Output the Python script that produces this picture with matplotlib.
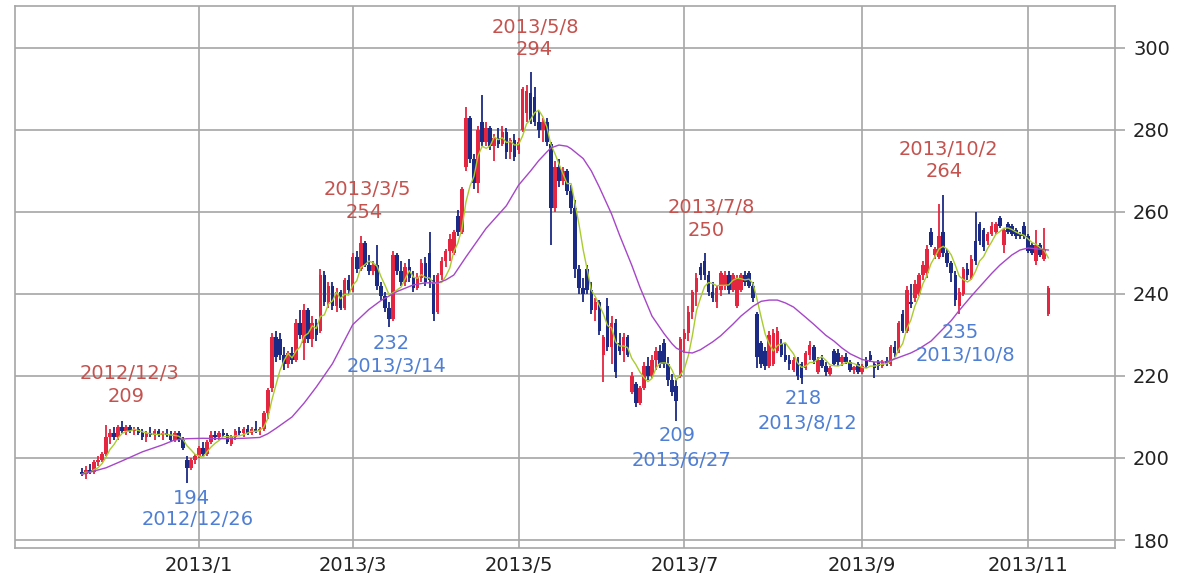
import matplotlib
matplotlib.use("Agg")
import matplotlib.pyplot as plt
import numpy as np
import pandas as pd

# daily candles, trading-day index 0 = 2012/11/16
opens = [
    196.5, 196.0, 197.0, 196.5, 199.0, 199.5, 201.0, 205.0, 206.0, 205.0,
    207.5, 206.5, 207.5, 206.5, 207.0, 206.0, 205.0, 206.0, 205.5, 206.5,
    205.5, 206.0, 205.5, 204.5, 206.0, 204.5, 199.5, 197.5, 199.5, 200.5,
    202.5, 201.0, 204.0, 205.5, 205.0, 206.0, 205.5, 203.5, 205.0, 206.5,
    206.0, 207.0, 206.0, 207.0, 206.5, 207.0, 211.0, 217.0, 229.5, 229.0,
    225.0, 223.0, 225.5, 224.0, 233.0, 228.0, 236.0, 229.0, 233.0, 231.0,
    244.5, 238.0, 242.0, 237.0, 240.5, 236.5, 243.5, 241.0, 249.0, 246.0,
    252.5, 247.0, 245.5, 247.0, 242.0, 239.5, 236.5, 234.0, 249.5, 245.5,
    243.0, 246.5, 244.0, 241.5, 244.0, 247.5, 250.0, 243.5, 235.5, 244.5,
    248.0, 250.5, 250.0, 259.0, 255.0, 271.0, 283.0, 273.0, 267.0, 282.0,
    277.0, 280.5, 276.0, 278.0, 276.5, 279.5, 274.5, 277.5, 275.0, 280.0,
    284.0, 289.0, 288.0, 282.0, 280.0, 282.0, 276.5, 261.0, 271.0, 267.5,
    270.0, 265.0, 261.0, 246.0, 241.5, 246.0, 241.0, 236.0, 238.0, 225.0,
    237.0, 227.0, 233.0, 228.0, 226.0, 229.5, 216.0, 218.0, 213.5, 217.0,
    222.5, 220.0, 224.0, 226.0, 228.0, 223.0, 219.0, 217.5, 220.0, 229.0,
    230.5, 235.5, 240.5, 246.5, 248.0, 244.5, 240.5, 238.0, 241.0, 242.0,
    244.5, 241.0, 237.0, 241.0, 244.5, 245.0, 242.0, 235.0, 228.0, 226.0,
    222.5, 223.0, 226.0, 228.0, 225.0, 224.0, 221.5, 224.0, 223.0, 222.0,
    225.0, 227.0, 221.0, 224.0, 222.5, 220.5, 226.0, 225.5, 223.5, 224.5,
    223.5, 221.5, 223.0, 221.0, 224.0, 225.0, 223.0, 223.5, 222.5, 223.5,
    223.0, 227.0, 226.0, 235.0, 231.0, 238.0, 239.0, 240.0, 244.5, 245.0,
    255.0, 249.5, 249.0, 255.0, 250.0, 247.5, 244.5, 237.0, 240.0, 246.0,
    244.0, 253.0, 257.0, 255.5, 253.0, 254.5, 255.0, 258.5, 252.0, 257.0,
    256.5, 255.5, 254.5, 256.5, 254.0, 252.0, 248.0, 252.0, 248.5, 235.0,
]
highs = [
    197.5, 198.0, 198.5, 199.5, 200.5, 201.5, 208.0, 207.0, 207.5, 208.0,
    209.0, 208.0, 208.0, 207.5, 207.5, 207.0, 206.5, 207.5, 207.0, 207.0,
    206.5, 207.0, 206.5, 206.5, 206.5, 205.0, 200.5, 200.0, 201.0, 203.0,
    204.0, 204.5, 206.5, 206.5, 206.5, 207.0, 206.0, 205.5, 207.0, 207.5,
    207.5, 208.0, 207.5, 209.0, 207.5, 211.5, 217.0, 230.5, 231.0, 230.5,
    227.0, 226.0, 227.0, 234.0, 236.0, 237.5, 236.5, 234.5, 234.0, 246.0,
    245.5, 243.0, 243.0, 241.5, 241.0, 244.0, 244.5, 250.0, 250.5, 254.0,
    253.0, 249.5, 248.0, 252.0, 243.0, 240.5, 238.0, 250.5, 250.0, 248.0,
    247.5, 248.5, 245.5, 245.0, 248.5, 249.0, 255.0, 244.5, 245.0, 249.0,
    251.0, 254.5, 255.5, 260.5, 266.0, 285.5, 283.5, 274.0, 281.0, 288.5,
    282.0, 281.0, 279.0, 280.5, 281.0, 280.5, 278.0, 279.0, 278.0, 290.5,
    291.0, 294.0, 290.5, 284.5, 283.0, 283.0, 277.0, 272.5, 273.0, 271.0,
    270.5, 266.5, 263.0, 247.0, 244.0, 247.0, 243.0, 239.0, 238.5, 230.0,
    239.0, 234.5, 234.0, 230.5, 230.5, 230.0, 221.0, 218.5, 217.5, 223.5,
    224.5, 225.0, 227.0, 227.5, 229.0, 224.5, 220.5, 219.0, 229.5, 231.5,
    237.0, 241.0, 245.0, 247.5, 250.0, 245.5, 243.0, 242.0, 245.5, 245.5,
    245.5, 245.0, 244.5, 245.0, 245.5, 245.5, 243.0, 235.5, 228.5, 227.0,
    231.0, 231.5, 232.0, 229.0, 228.0, 225.0, 224.5, 224.5, 223.5, 226.0,
    228.5, 227.5, 224.5, 225.0, 223.5, 222.5, 226.5, 226.5, 225.0, 225.5,
    224.0, 222.5, 223.5, 223.0, 224.5, 226.0, 223.5, 224.0, 224.0, 224.5,
    227.5, 228.5, 233.5, 236.0, 242.0, 242.5, 243.5, 245.0, 248.0, 252.0,
    256.0, 251.5, 262.0, 264.0, 251.0, 248.0, 245.5, 241.5, 246.5, 247.5,
    249.5, 260.0, 257.5, 256.0, 255.0, 257.5, 257.5, 259.0, 256.0, 257.5,
    257.0, 256.0, 255.0, 257.5, 254.5, 252.5, 255.5, 252.5, 256.0, 242.0,
]
lows = [
    195.5, 194.8, 196.0, 196.0, 198.0, 199.0, 200.5, 203.5, 204.5, 204.5,
    206.0, 205.5, 206.0, 205.5, 205.5, 204.5, 204.0, 205.0, 204.5, 205.0,
    204.5, 205.0, 204.0, 204.0, 204.0, 202.0, 194.0, 197.0, 198.5, 200.0,
    200.5, 200.5, 203.5, 204.5, 204.5, 205.0, 203.5, 203.0, 204.5, 205.5,
    205.0, 205.5, 205.5, 206.0, 205.5, 206.5, 209.5, 216.0, 223.5, 224.0,
    221.5, 222.0, 223.0, 223.5, 229.0, 224.0, 228.0, 227.0, 228.5, 230.5,
    237.0, 236.5, 236.0, 235.5, 236.0, 236.0, 240.0, 240.5, 245.0, 245.5,
    246.5, 244.5, 244.5, 241.0, 238.5, 235.5, 232.0, 233.5, 244.5, 242.0,
    242.0, 243.0, 240.5, 241.0, 243.0, 242.0, 241.5, 233.5, 235.0, 243.5,
    246.5, 248.0, 249.5, 254.0, 254.5, 270.0, 272.0, 265.5, 264.5, 276.0,
    276.0, 275.0, 272.5, 275.5, 276.0, 273.0, 273.0, 272.5, 274.0, 279.5,
    282.0, 281.5, 281.0, 278.0, 277.0, 276.0, 252.0, 260.0, 266.0, 266.5,
    264.0, 259.5, 244.0, 240.0, 238.0, 240.0, 235.0, 233.5, 230.0, 218.5,
    226.0, 223.0, 219.5, 225.0, 223.5, 224.5, 215.5, 212.5, 213.0, 216.5,
    219.0, 219.5, 221.5, 222.0, 222.0, 217.5, 215.0, 209.0, 219.5, 225.5,
    228.5, 234.0, 237.0, 243.5, 243.5, 239.5, 238.0, 236.5, 239.5, 241.0,
    240.0, 240.5, 236.5, 240.5, 242.0, 241.5, 238.0, 222.0, 222.0, 221.5,
    222.0, 222.5, 225.5, 224.5, 223.5, 221.5, 221.0, 219.0, 218.0, 221.5,
    224.0, 223.0, 220.5, 222.0, 220.0, 220.0, 222.5, 222.5, 222.5, 223.0,
    221.0, 220.5, 220.5, 220.5, 222.0, 223.5, 219.5, 221.5, 222.0, 222.5,
    222.5, 224.5, 225.5, 230.5, 230.5, 236.5, 238.0, 239.5, 243.5, 244.0,
    251.5, 248.5, 248.5, 249.0, 246.5, 243.0, 237.0, 235.0, 239.5, 243.5,
    243.5, 247.0, 252.0, 250.5, 252.0, 254.0, 254.5, 256.0, 250.0, 254.5,
    254.0, 253.5, 253.5, 253.5, 250.0, 249.5, 247.0, 249.0, 248.0, 234.5,
]
closes = [
    196.0, 197.0, 196.5, 199.0, 199.5, 201.0, 205.0, 206.0, 205.0, 207.5,
    206.5, 207.5, 206.5, 207.0, 206.0, 205.0, 206.0, 205.5, 206.5, 205.5,
    206.0, 205.5, 204.5, 206.0, 204.5, 202.5, 197.5, 199.5, 200.5, 202.5,
    201.0, 204.0, 205.5, 205.0, 206.0, 205.5, 204.0, 205.0, 206.5, 206.0,
    207.0, 206.0, 207.0, 206.5, 207.0, 211.0, 216.5, 229.5, 224.5, 225.0,
    223.0, 225.5, 224.0, 233.0, 230.0, 236.0, 229.0, 233.0, 230.0, 244.5,
    238.0, 242.0, 237.0, 240.5, 236.5, 243.5, 241.0, 249.0, 246.0, 252.5,
    247.0, 245.5, 247.0, 242.0, 239.5, 236.5, 234.0, 249.5, 245.5, 243.0,
    246.5, 244.0, 241.5, 244.0, 247.5, 243.0, 243.5, 235.0, 244.5, 248.0,
    250.5, 253.5, 255.0, 255.0, 265.5, 283.0, 273.0, 267.0, 280.0, 277.0,
    280.5, 276.0, 278.0, 276.5, 279.5, 274.5, 277.5, 273.5, 277.0, 290.0,
    289.5, 282.5, 282.0, 280.0, 282.0, 277.0, 261.0, 271.0, 267.5, 270.0,
    265.0, 261.0, 246.0, 241.5, 240.0, 241.0, 236.0, 238.0, 231.0, 229.5,
    227.0, 233.0, 221.0, 226.0, 229.5, 225.0, 220.0, 213.5, 217.0, 222.5,
    220.0, 224.0, 226.0, 223.0, 223.0, 219.0, 216.0, 214.0, 229.0, 230.5,
    235.5, 240.5, 244.0, 244.5, 244.5, 240.5, 239.0, 241.5, 245.0, 244.5,
    241.0, 244.5, 244.0, 244.5, 243.0, 242.0, 239.0, 224.5, 223.0, 222.5,
    230.0, 230.5, 231.0, 225.0, 224.0, 223.0, 224.0, 220.0, 219.5, 225.5,
    227.5, 224.0, 224.0, 222.5, 221.0, 222.0, 223.0, 223.5, 224.5, 223.5,
    221.5, 222.0, 221.0, 222.5, 222.5, 224.0, 222.0, 222.5, 223.5, 223.0,
    227.0, 225.5, 233.0, 231.0, 241.0, 237.5, 242.5, 244.5, 247.0, 251.0,
    252.0, 251.0, 254.0, 250.0, 247.5, 245.0, 238.5, 240.5, 246.0, 244.5,
    248.5, 248.0, 253.0, 251.5, 254.5, 256.5, 257.0, 256.5, 255.5, 255.0,
    254.5, 254.0, 254.0, 254.0, 250.5, 250.0, 252.0, 249.5, 251.0, 241.5,
]

# 25-day moving average
ma25_idx = [0, 6, 10, 15, 20, 23, 26, 30, 35, 40, 44, 46, 48, 50, 52, 55, 58,
            62, 67, 71, 74, 78, 82, 85, 88, 90, 92, 95, 100, 105, 108, 111,
            113, 115, 116, 118, 120, 121, 124, 126, 128, 131, 133, 136, 138,
            141, 144, 146, 147, 149, 151, 153, 156, 158, 161, 163, 166, 168,
            170, 172, 174, 176, 179, 181, 184, 186, 188, 190, 193, 196, 199,
            202, 205, 207, 210, 212, 215, 217, 220, 222, 225, 227, 230, 232,
            234, 236, 239]
ma25_val = [196.0, 197.6, 199.3, 201.5, 203.2, 204.4, 204.7, 204.8, 204.7, 204.8,
            205.0, 205.9, 207.2, 208.6, 210.0, 213.4, 217.3,
            223.0, 232.5, 236.2, 238.4, 240.6, 242.2, 242.7, 242.7, 243.4,
            244.6, 249.0, 256.0, 261.5, 266.5, 270.0,
            272.5, 274.6, 275.6, 276.3, 276.0, 275.4, 273.0, 270.0, 266.0,
            259.5, 254.3, 247.0, 241.7,
            234.6, 230.3, 227.8, 226.8, 225.8, 225.6, 226.4, 228.3, 229.8,
            232.6, 234.6, 237.0, 238.2,
            238.5, 238.5, 237.8, 236.8, 234.3, 232.6, 229.9, 228.5, 226.8,
            225.4, 224.0, 223.4, 223.4,
            224.5, 225.6, 226.6, 228.5, 230.5, 233.5, 236.0, 239.5, 241.7,
            245.0, 247.0, 249.5, 250.7,
            251.2, 251.0, 250.7]

month_idx = [29, 67, 108, 149, 193, 234]
month_labels = ["2013/1", "2013/3", "2013/5", "2013/7", "2013/9", "2013/11"]
y_ticks = [180, 200, 220, 240, 260, 280, 300]

# (text, idx, value) for peak / trough labels
peak_notes = [
    ("2012/12/3", 11.9, 220.5), ("209", 11.1, 214.9),
    ("2013/3/5", 70.6, 265.4), ("254", 69.9, 259.8),
    ("2013/5/8", 112.1, 304.9), ("294", 111.9, 299.5),
    ("2013/7/8", 155.6, 261.0), ("250", 154.3, 255.4),
    ("2013/10/2", 214.3, 275.1), ("264", 213.3, 269.8),
]
trough_notes = [
    ("194", 27.2, 190.2), ("2012/12/26", 28.6, 184.9),
    ("232", 76.5, 228.0), ("2013/3/14", 77.8, 222.4),
    ("209", 147.2, 205.4), ("2013/6/27", 148.4, 199.3),
    ("218", 178.5, 214.4), ("2013/8/12", 179.5, 208.5),
    ("235", 217.3, 230.7), ("2013/10/8", 218.5, 225.1),
]

UP = "#e42640"
DOWN = "#1b2a84"
GRID = "#a6a6a6"

fig = plt.figure(figsize=(12, 5.76), dpi=100)
ax = fig.add_axes([0.0125, 0.0486, 0.9167, 0.941])

o = np.array(opens)
h = np.array(highs)
l = np.array(lows)
c = np.array(closes)
x = np.arange(len(c))
colors = np.where(c >= o, UP, DOWN)

ax.vlines(x, l, h, colors=colors, lw=1.3, zorder=3)
body_lo = np.minimum(o, c)
body_h = np.maximum(np.abs(c - o), 0.6)
ax.bar(x, body_h, bottom=body_lo, width=0.88, color=colors, lw=0, zorder=3)

ma5 = pd.Series(closes).rolling(5, min_periods=1).mean()
ax.plot(x, ma5, color="#a9cc2e", lw=1.0, zorder=4)
ax.plot(ma25_idx, ma25_val, color="#a646c8", lw=1.0, zorder=4)

for txt, xi, yv in peak_notes:
    ax.text(xi, yv, txt, color="#c4524e", fontsize=14, ha="center", va="center", zorder=5)
for txt, xi, yv in trough_notes:
    ax.text(xi, yv, txt, color="#4f7fd4", fontsize=14, ha="center", va="center", zorder=5)

ax.set_xlim(-16.5, 255.5)
ax.set_ylim(178.05, 310.2)

ax.set_xticks(month_idx)
ax.set_xticklabels(month_labels, fontsize=14, color="#222222")
ax.tick_params(axis="x", length=0, pad=6)

ax.yaxis.tick_right()
ax.set_yticks(y_ticks)
ax.set_yticklabels([str(v) for v in y_ticks], fontsize=14, color="#222222")
ax.tick_params(axis="y", length=7, width=1.2, color=GRID, pad=6)

ax.grid(True, color=GRID, lw=1.2, zorder=0)
ax.set_axisbelow(True)
for sp in ax.spines.values():
    sp.set_color(GRID)
    sp.set_linewidth(1.2)

fig.savefig("out.png", dpi=100, facecolor="white")
